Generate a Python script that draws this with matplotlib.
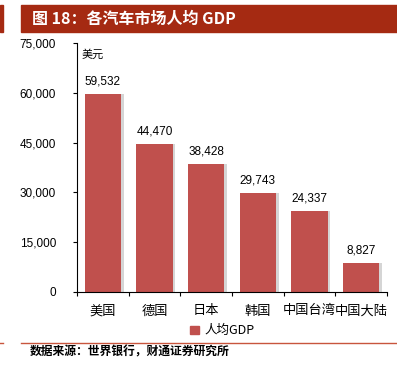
import matplotlib.pyplot as plt
import matplotlib.patheffects as pe
from matplotlib.patches import Rectangle
from matplotlib.lines import Line2D

plt.rcParams['font.family'] = ['Liberation Sans', 'Noto Sans CJK SC', 'DejaVu Sans']

categories = ["美国", "德国", "日本", "韩国", "中国台湾", "中国大陆"]
gdp = [59532, 44470, 38428, 29743, 24337, 8827]
yticks = [0, 15000, 30000, 45000, 60000, 75000]

bar_color = "#C0504D"
title_color = "#A52A12"
cjk = ['Noto Sans CJK SC', 'DejaVu Sans']

fig = plt.figure(figsize=(3.97, 3.71), dpi=100)
ax = fig.add_axes([0.194, 0.213, 0.781, 0.671])

x = range(len(categories))
bars = ax.bar(x, gdp, width=0.7, color=bar_color, zorder=2,
              path_effects=[pe.SimplePatchShadow(offset=(2, 0), shadow_rgbFace="#888888", alpha=0.35),
                            pe.Normal()])
for xi, v in zip(x, gdp):
    ax.text(xi, v + 2000, f"{v:,}", ha="center", va="bottom", fontsize=8.5)

ax.set_xlim(-0.5, len(categories) - 0.5)
ax.set_ylim(0, 75000)
ax.set_yticks(yticks)
ax.set_yticklabels([f"{t:,}" for t in yticks], fontsize=8.5)
ax.tick_params(axis='y', direction='out', length=3, pad=12)
ax.set_xticks([i + 0.5 for i in range(-1, len(categories))], minor=False)
ax.set_xticklabels([])
ax.tick_params(axis='x', direction='out', length=3)
ax.set_xticks(list(x), minor=True)
ax.set_xticklabels(categories, minor=True, family=cjk, fontsize=9.5)
ax.tick_params(axis='x', which='minor', length=0, pad=9)
for s in ['top', 'right']:
    ax.spines[s].set_visible(False)

ax.text(0.015, 0.975, "美元", transform=ax.transAxes, family=cjk, fontsize=8, va='top')

# legend
handle = Rectangle((0, 0), 1, 1, color=bar_color)
fig.legend([handle], ["人均GDP"], loc='center', bbox_to_anchor=(0.56, 0.108), frameon=False,
           prop={'family': cjk, 'size': 9}, handlelength=0.7, handleheight=0.7, handletextpad=0.4)

# title bar
fig.patches.append(Rectangle((0.052, 0.913), 0.948, 0.074, transform=fig.transFigure,
                             color=title_color, zorder=0))
fig.patches.append(Rectangle((0.0, 0.913), 0.008, 0.074, transform=fig.transFigure,
                             color=title_color, zorder=0))
fig.text(0.08, 0.949, "图 18：各汽车市场人均 GDP", color="white", fontsize=11.5, fontweight='bold',
         va='center', family=cjk)

# bottom rule and source
fig.lines.append(Line2D([0.052, 1.0], [0.076, 0.076], transform=fig.transFigure, color="#C8553D", lw=1))
fig.lines.append(Line2D([0.0, 0.008], [0.076, 0.076], transform=fig.transFigure, color="#C8553D", lw=1))
fig.text(0.075, 0.05, "数据来源：世界银行，财通证券研究所", fontsize=8.5, fontweight='bold',
         va='center', family=cjk)

fig.savefig("out.png", dpi=100)
